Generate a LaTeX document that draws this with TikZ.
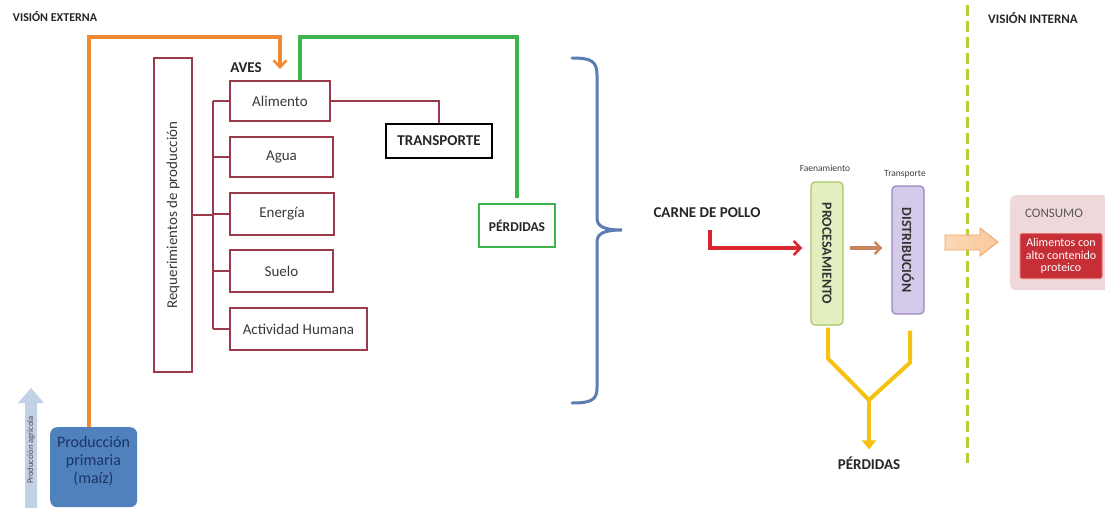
\documentclass[tikz,border=0pt]{standalone}
\usepackage{fontspec}
\setmainfont{Carlito}
\usetikzlibrary{arrows.meta,calc}

\definecolor{reqred}{HTML}{9B3A4A}
\definecolor{txtgray}{HTML}{3A3A3A}
\definecolor{linkorange}{HTML}{F08A30}
\definecolor{linkgreen}{HTML}{3DB54A}
\definecolor{bracecol}{HTML}{5B7DB1}
\definecolor{flowred}{HTML}{D8262F}
\definecolor{flowbrown}{HTML}{C8875A}
\definecolor{lossyellow}{HTML}{F5C211}
\definecolor{dividergreen}{HTML}{B5CF3B}
\definecolor{procfill}{HTML}{E3EFBE}
\definecolor{procdraw}{HTML}{A9C66A}
\definecolor{distfill}{HTML}{D6CAEA}
\definecolor{distdraw}{HTML}{9A87C2}
\definecolor{consfill}{HTML}{EED8DA}
\definecolor{protred}{HTML}{C62F36}
\definecolor{protdraw}{HTML}{E57373}
\definecolor{prodblue}{HTML}{4F81BD}
\definecolor{prodtext}{HTML}{1F3368}
\definecolor{agriblue}{HTML}{C3D1E6}
\definecolor{fatfill}{HTML}{F9C89A}
\definecolor{fatdraw}{HTML}{EFA35E}

\tikzset{
  reqbox/.style={draw=reqred, line width=1.8pt, fill=white, text=txtgray,
    font=\fontsize{15}{17}\selectfont, inner sep=0pt},
  reqline/.style={draw=reqred, line width=1.8pt},
  boldlabel/.style={font=\bfseries\fontsize{15}{17}\selectfont, text=black!85, inner sep=0pt},
  linkline/.style={line width=4pt},
  stagebox/.style={rounded corners=4pt, line width=1.2pt, inner sep=0pt,
    font=\bfseries\fontsize{14}{16}\selectfont, text=black!80},
  smallnote/.style={font=\fontsize{9.5}{11}\selectfont, text=black!75, inner sep=0pt},
  lossline/.style={draw=lossyellow, line width=4pt, line join=round},
}

\begin{document}
\begin{tikzpicture}[x=1pt,y=-1pt]
\useasboundingbox (0,0) rectangle (1105,508);
\fill[white] (0,0) rectangle (1105,508);

% headings
\node[font=\bfseries\fontsize{12}{14}\selectfont, text=black!85, inner sep=0pt] (vext) at (55,17) {VISIÓN EXTERNA};
\node[font=\bfseries\fontsize{13}{15}\selectfont, text=black!85, inner sep=0pt] (vint) at (1033,18) {VISIÓN INTERNA};

% production requirements
\node[reqbox, rotate=90, minimum width=314pt, minimum height=38pt] (req) at (173,215) {Requerimientos de producción};
\node[reqbox, minimum width=100pt, minimum height=40pt] (alim) at (280,101) {Alimento};
\node[reqbox, minimum width=103pt, minimum height=40pt] (agua) at (281.5,157) {Agua};
\node[reqbox, minimum width=104pt, minimum height=42pt] (ener) at (282,214) {Energía};
\node[reqbox, minimum width=103pt, minimum height=42pt] (suelo) at (281.5,271) {Suelo};
\node[reqbox, minimum width=137pt, minimum height=42pt] (activ) at (298.5,329) {Actividad Humana};
\node[font=\bfseries\fontsize{15}{17}\selectfont, text=black!85, inner sep=0pt] (aves) at (246,68) {AVES};

\coordinate (bus) at (213,0);
\draw[reqline] (req.south) -- (req.south -| bus);
\draw[reqline] (alim.west -| bus) -- (activ.west -| bus);
\foreach \b in {alim,agua,ener,suelo,activ}
  \draw[reqline] (\b.west -| bus) -- (\b.west);

% transport
\node[draw=black, line width=1.5pt, minimum width=106pt, minimum height=34pt, boldlabel] (trans) at (439,141) {TRANSPORTE};
\draw[reqline, line width=1.5pt] (alim.east) -| (trans.north);

% losses from feed
\node[draw=linkgreen, line width=1.2pt, minimum width=76pt, minimum height=43pt,
  font=\bfseries\fontsize{13.5}{15}\selectfont, text=black!85, inner sep=0pt] (perd) at (517,225.5) {PÉRDIDAS};

% primary production
\node[fill=prodblue, rounded corners=7pt, minimum width=87pt, minimum height=80pt, anchor=north west, inner sep=0pt] (prod) at (50,427) {};
\node[align=center, text=prodtext, font=\fontsize{16}{18}\selectfont, inner sep=0pt] (prodtxt) at (93.5,461) {Producción\\primaria\\(maíz)};

% agricultural production arrow
\fill[agriblue] (25,510) -- (25,403) -- (18,403) -- (31,388) -- (44,403) -- (37,403) -- (37,510) -- cycle;
\node[rotate=90, font=\fontsize{8.5}{10}\selectfont, text=black!70, inner sep=0pt] (agri) at (31,450) {Producción agrícola};

\coordinate (otop) at (0,37);
\draw[linkline, draw=linkorange, -{Straight Barb[length=7pt,width=13pt,line width=2.5pt]}]
  ($(prod.north)+(-5,0)$) |- (otop -| alim.north) -- ($(alim.north)+(0,-11)$);
\draw[linkline, draw=linkgreen] ($(alim.north)+(20,0)$) |- (otop -| perd.north) -- ($(perd.north)+(0,-5)$);

% grouping brace
\draw[draw=bracecol, line width=3pt, line cap=round]
  (572,58) .. controls (591,58) and (597,61) .. (597,75) -- (597,218)
  .. controls (597,226) and (603,230) .. (622,230)
  .. controls (603,230) and (597,234) .. (597,242) -- (597,388)
  .. controls (597,400) and (591,403) .. (572,403);

% processing chain (rotated boxes: south = left side, north = right side, east = bottom)
\node[boldlabel] (carne) at (707,213) {CARNE DE POLLO};
\node[stagebox, draw=procdraw, fill=procfill, rotate=-90,
  minimum width=143pt, minimum height=32pt] (proc) at (827,253.5) {PROCESAMIENTO};
\node[stagebox, draw=distdraw, fill=distfill, rotate=-90,
  minimum width=128pt, minimum height=32pt] (dist) at (908,250) {DISTRIBUCIÓN};
\node[smallnote] (faen) at (825,168) {Faenamiento};
\node[smallnote] (transnote) at (905,174) {Transporte};

\coordinate (rstart) at (710,230);
\draw[linkline, draw=flowred, -{Straight Barb[length=7pt,width=14pt,line width=2.5pt]}]
  (rstart) |- ($(proc.south)+(-8,-5.5)$);
\draw[linkline, draw=flowbrown, -{Straight Barb[length=6pt,width=12pt,line width=2.5pt]}]
  ($(proc.north)+(6,-5.5)$) -- ($(dist.south)+(-9,-2)$);

% losses along the chain
\coordinate (ymerge) at (869,400);
\node[font=\bfseries\fontsize{15}{17}\selectfont, text=black!85, inner sep=0pt] (perd2) at (869,463) {PÉRDIDAS};
\draw[lossline] ($(proc.east)+(1,2)$) -- ++(0,31) -- (ymerge);
\draw[lossline] ($(dist.east)+(2,16)$) -- ++(0,32) -- (ymerge);
\draw[lossline, -{Triangle[length=9pt,width=14pt]}] (ymerge) -- ($(perd2.north)+(0,-7)$);

% divider between external and internal view
\draw[draw=dividergreen, line width=3pt, dash pattern=on 11pt off 5pt] (967,5) -- (967,463);

% consumption
\draw[draw=fatdraw, line width=0.8pt, left color=fatfill!70!white, right color=fatfill]
  (945,235) -- (980,235) -- (980,228) -- (998,242) -- (980,256) -- (980,250) -- (945,250) -- cycle;
\node[fill=consfill, rounded corners=6pt, minimum width=100pt, minimum height=95pt, anchor=north west, inner sep=0pt] (cons) at (1010,195) {};
\node[text=black!65, font=\fontsize{13}{15}\selectfont, inner sep=0pt] (constxt) at (1054,213) {CONSUMO};
\node[fill=protred, draw=protdraw, line width=1pt, rounded corners=2pt, minimum width=82pt, minimum height=45pt,
  align=center, text=white, font=\fontsize{12}{12.5}\selectfont, inner sep=0pt] (prot) at (1061,256) {Alimentos con\\alto contenido\\proteico};

\end{tikzpicture}
\end{document}
